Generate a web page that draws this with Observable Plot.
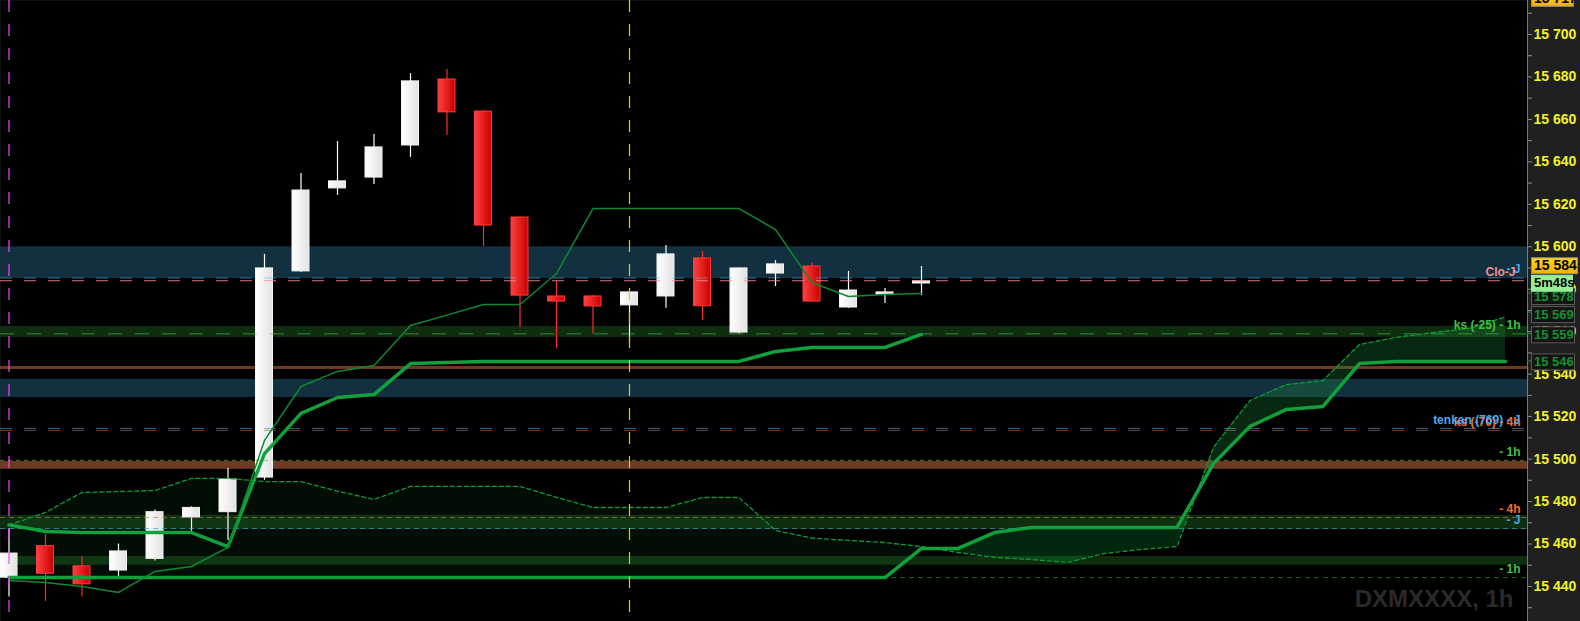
<!DOCTYPE html>
<html><head><meta charset="utf-8">
<script src="https://cdn.jsdelivr.net/npm/d3@7"></script>
<script src="https://cdn.jsdelivr.net/npm/@observablehq/plot@0.6"></script>
<style>
html,body{margin:0;padding:0;background:#202020;overflow:hidden;width:1580px;height:621px}
#chart{width:1580px;height:621px}
#chart svg{display:block;max-width:none!important;width:1580px!important;height:621px!important}
</style></head><body><div id="chart"></div>
<script>
// ---------- data ----------
const bars = [0,1,2,3,4,5,6,7,8,9,10,11,12,13,14,15,16,17,18,19,20,21,22,23,24,25];
const opens  = [15444,15459,15449.5,15447.5,15453,15472.5,15475,15491.3,15588.4,15627.5,15632.6,15647.7,15678.8,15663.7,15613.8,15576.6,15576.6,15572.4,15576.6,15594.5,15559.6,15587.4,15590.7,15571.4,15577.5,15582.7];
const highs  = [15467,15464.5,15454,15460,15476,15477.5,15495.6,15596.4,15634.5,15649.6,15652.9,15681.6,15683.5,15664,15614,15583.7,15577,15578.5,15600.6,15597.8,15590,15593.5,15592.6,15588.4,15580.4,15590.7];
const lows   = [15435,15433,15435,15444,15452,15466,15461.7,15490,15588,15624.2,15629.3,15642.1,15652.4,15600,15562,15552,15559,15555,15571,15565.3,15559,15581.3,15574,15571,15573.3,15577];
const closes = [15455.5,15446,15441,15456.5,15475,15477,15490.4,15589.8,15626.5,15630.8,15646.8,15677.9,15663.3,15610,15577,15574.2,15571.9,15578.5,15596.4,15572,15589.8,15591.7,15574.2,15579.4,15578.5,15583.7];

const tenkan = [15442.8,15441.9,15440,15437.2,15447.1,15449.4,15458.4,15508.8,15534.2,15541.3,15544.1,15562.9,15567.8,15572.8,15572.8,15587.4,15618,15618,15618,15618,15618,15608.1,15583.2,15576.6,15577.5,15578];
const kijun  = [15469,15465.9,15465.4,15465.4,15465.4,15465.4,15458.8,15502.6,15521.5,15529,15530.4,15545,15545.5,15546,15546,15546,15546,15546,15546,15546,15546,15550.7,15552.6,15552.6,15552.6,15558.7];

const spanIdx = [0,1,2,3,4,5,6,7,8,9,10,11,12,13,14,15,16,17,18,19,20,21,22,23,24,25,26,27,28,29,30,31,32,33,34,35,36,37,38,39,40,41];
const spanB = [15444.2,15444.2,15444.2,15444.2,15444.2,15444.2,15444.2,15444.2,15444.2,15444.2,15444.2,15444.2,15444.2,15444.2,15444.2,15444.2,15444.2,15444.2,15444.2,15444.2,15444.2,15444.2,15444.2,15444.2,15444.2,15457.9,15457.9,15465.4,15467.8,15467.8,15467.8,15467.8,15467.8,15497.9,15515.4,15523.4,15524.8,15545,15546,15546,15546,15546];
const spanA = [15469,15474.9,15484.3,15484.7,15485.2,15490.9,15490.9,15489.4,15489.4,15484.9,15481,15487.1,15487.1,15487.1,15487.1,15482,15477.2,15477.2,15477.2,15481.9,15481.9,15466.4,15462.8,15461.7,15460.7,15458.8,15456,15453.7,15452.7,15451.3,15455.5,15457.4,15458.8,15505.5,15527.6,15535.1,15537,15554,15557.3,15559.6,15561.5,15567];

// horizontal zones
const bandLows  = [15585, 15557.3, 15542.2, 15529, 15495.2, 15466.8, 15450];
const bandHighs = [15600, 15562.5, 15543.6, 15537.5, 15498.9, 15473.4, 15454.1];
// horizontal dashed levels
const levelValues = [15585.3, 15584, 15559, 15514.4, 15513.5, 15499.4, 15472.5, 15467.3, 15444.2];
// right-side level labels
const labelTexts  = ["- J", "Clo-J", "ks (-25) - 1h", "ks (-70) - 4h", "tenkan (769) - J", "- 1h", "- 4h", "- J", "- 1h"];
const labelLevels = [15585.3, 15584, 15559, 15513.5, 15514.4, 15499.4, 15472.5, 15467.3, 15444.2];
// price axis
const majorTicks = [15440,15460,15480,15500,15520,15540,15560,15580,15600,15620,15640,15660,15680,15700];
const minorTicks = [15430,15450,15470,15490,15510,15530,15550,15570,15590,15610,15630,15650,15670,15690,15710];
// badges
const currentPrice = 15584;
const countdown = "5m48s";
const badgeValues = [15578, 15569, 15559, 15546];
const topBadge = 15717;
const vLines = [0, 17];
const watermark = "DXMXXXX, 1h";

// ---------- styles ----------
const FONT = "'Liberation Sans', Arial, Helvetica, sans-serif";
const W = 1580, H = 621, MR = 53;
const xDomain = [-0.233, 41.603];
const yDomain = [15423.5, 15716];
const halfW = 0.233;
const bandFills = ["#12303f", "#0f2e10", "#6e3a22", "#12303f", "#6e3a22", "#0f2e10", "#0f2e10"];
const levelStyles = [
  {c: "#5ab4f0", o: 0.55, d: "12,12"},
  {c: "#ff8c8c", o: 0.85, d: "12,12"},
  {c: "#50d050", o: 0.55, d: "14,13"},
  {c: "#3c9ad8", o: 0.65, d: "12,12"},
  {c: "#c05a28", o: 0.65, d: "12,12"},
  {c: "#5ab040", o: 0.65, d: "4,4"},
  {c: "#c08040", o: 0.65, d: "5,4"},
  {c: "#3aa0d0", o: 0.7, d: "5,4"},
  {c: "#40a040", o: 0.6, d: "5,4"}
];
const labelColors = ["#4aa8f0", "#f09090", "#40c040", "#f07030", "#4aa8f0", "#40c040", "#f07030", "#4aa8f0", "#40c040"];
const labelDx = [-7, -12, -7, -7, -7, -7, -7, -7, -7];

const candles = bars.map(i => ({i, o: opens[i], h: highs[i], l: lows[i], c: closes[i], up: closes[i] >= opens[i]}));
const bands = bandLows.map((v, k) => ({lo: v, hi: bandHighs[k], fill: bandFills[k]}));
const cloud = spanIdx.map(i => ({i, a: spanA[i], b: spanB[i]}));
const labels = labelTexts.map((t, k) => ({t, v: labelLevels[k], fill: labelColors[k], dx: labelDx[k]}));
const fmt = d => d3.format(",")(Math.round(d)).replace(",", " ");

const seg = (lo, hi) => cloud.filter(d => d.i >= lo && d.i <= hi);

const chart = Plot.plot({
  width: W, height: H,
  marginLeft: 0, marginRight: MR, marginTop: 0, marginBottom: 0,
  x: {domain: xDomain, axis: null},
  y: {domain: yDomain, axis: null},
  color: {type: "identity"},
  style: {background: "#202020", fontFamily: FONT, overflow: "visible", maxWidth: "none"},
  marks: [
    Plot.frame({fill: "black"}),
    Plot.rect(bands, {y1: "lo", y2: "hi", fill: "fill"}),
    // cloud fills
    Plot.areaY(seg(0, 25), {x: "i", y1: "b", y2: "a", fill: "#14a03c", fillOpacity: 0.08}),
    Plot.areaY(seg(25, 32), {x: "i", y1: "b", y2: "a", fill: "#00a83a", fillOpacity: 0.24}),
    Plot.areaY(seg(32, 41), {x: "i", y1: "b", y2: "a", fill: "#1e9a40", fillOpacity: 0.26}),
    // candles
    Plot.ruleX(candles, {x: "i", y1: "l", y2: "h", stroke: d => d.up ? "#ffffff" : "#ff2a2a", strokeWidth: 1.2}),
    Plot.rect(candles, {x1: d => d.i - halfW, x2: d => d.i + halfW, y1: "o", y2: "c",
      fill: d => d.up ? "url(#gw)" : "url(#gr)", stroke: d => d.up ? "#f4f4f4" : "#ff3b3b", strokeWidth: 1}),
    // horizontal levels (translucent, over candles)
    ...levelValues.map((v, k) => Plot.ruleY([v], {stroke: levelStyles[k].c, strokeOpacity: levelStyles[k].o, strokeDasharray: levelStyles[k].d, strokeWidth: 1})),
    // ichimoku lines
    Plot.line(cloud, {x: "i", y: "a", stroke: "#0e9a38", strokeWidth: 1.3, strokeDasharray: "4,3"}),
    Plot.line(cloud, {x: "i", y: "b", stroke: "#10a03c", strokeWidth: 3.5}),
    Plot.line(candles, {x: "i", y: d => kijun[d.i], stroke: "#10a03c", strokeWidth: 3.5}),
    Plot.line(candles, {x: "i", y: d => tenkan[d.i], stroke: "#0d8a30", strokeWidth: 1.5}),
    // vertical session markers
    Plot.ruleX([vLines[0]], {stroke: "#ff40ff", strokeDasharray: "12,12", strokeWidth: 1.2}),
    Plot.ruleX([vLines[1]], {stroke: "#ffc000", strokeDasharray: "12,12", strokeWidth: 1.2}),
    // labels
    ...labels.map(L => Plot.text([L], {y: "v", text: "t", frameAnchor: "right", textAnchor: "end", dx: L.dx, dy: -8.5,
      lineAnchor: "middle", fill: L.fill, fontSize: 12, fontWeight: "bold"})),
    Plot.text([watermark], {frameAnchor: "bottom-right", text: d => d, dx: -14, dy: -22, lineAnchor: "middle",
      textAnchor: "end", fill: "#2a2a2a", fontSize: 24, fontWeight: "bold"}),
    // axis
    Plot.ruleX([xDomain[1]], {stroke: "#7a7a7a", strokeWidth: 1}),
    Plot.axisY(minorTicks, {anchor: "right", tickSize: 4, stroke: "#8a8a8a", tickFormat: () => "", label: null}),
    Plot.axisY(majorTicks, {anchor: "right", tickSize: 4, tickPadding: 2, stroke: "#8a8a8a", color: "#f2f22a",
      tickFormat: fmt, fontSize: 14, fontWeight: "bold", label: null, textAnchor: "start"})
  ]
});

const svg = d3.select(chart);
svg.style("max-width", "none").attr("width", W).attr("height", H);
const defs = svg.insert("defs", ":first-child");
const gw = defs.append("linearGradient").attr("id", "gw").attr("x1", "0").attr("x2", "1").attr("y1", "0").attr("y2", "0");
gw.append("stop").attr("offset", "0").attr("stop-color", "#ffffff");
gw.append("stop").attr("offset", "1").attr("stop-color", "#e2e2e2");
const gr = defs.append("linearGradient").attr("id", "gr").attr("x1", "0").attr("x2", "1").attr("y1", "0").attr("y2", "0");
gr.append("stop").attr("offset", "0").attr("stop-color", "#ff4040");
gr.append("stop").attr("offset", "1").attr("stop-color", "#c80000");
const gy = defs.append("linearGradient").attr("id", "gy").attr("x1", "0").attr("x2", "0").attr("y1", "0").attr("y2", "1");
gy.append("stop").attr("offset", "0").attr("stop-color", "#ffd820");
gy.append("stop").attr("offset", "1").attr("stop-color", "#f0b000");

// price badges on the axis, positioned with Plot's y scale
const ys = chart.scale("y");
const xr = W - MR;
const g = svg.append("g").attr("font-family", FONT).attr("font-weight", "bold").attr("text-anchor", "start");
function badge(cy, text, o) {
  const h = 16, x0 = xr + 4;
  if (o.leader) g.append("line").attr("x1", xr).attr("x2", x0).attr("y1", o.ly).attr("y2", o.ly).attr("stroke", o.leader);
  g.append("rect").attr("x", x0 + 0.5).attr("y", cy - h / 2 + 0.5).attr("width", o.w).attr("height", h)
    .attr("fill", o.bg).attr("stroke", o.stroke);
  g.append("text").attr("x", x0 + 3).attr("y", cy).attr("dy", "0.36em").attr("font-size", o.fs)
    .attr("text-anchor", "start").attr("fill", o.fg).text(text);
}
[...badgeValues].reverse().forEach((v, k) => {
  const off = [0.5, 1, 2, 3][k];
  badge(ys.apply(v) + off, fmt(v), {bg: "#141414", fg: "#12922e", stroke: "#5a5a5a", w: 43, fs: 13, leader: "#12922e", ly: ys.apply(v)});
});
badge(ys.apply(currentPrice) + 2.5, countdown, {bg: "#96ee96", fg: "#000", stroke: "#96ee96", w: 41, fs: 13});
badge(ys.apply(currentPrice) - 15, fmt(currentPrice), {bg: "url(#gy)", fg: "#000", stroke: "#8a8a8a", w: 46, fs: 14});
badge(ys.apply(topBadge), fmt(topBadge), {bg: "url(#gy)", fg: "#000", stroke: "#8a8a8a", w: 42, fs: 14});

document.getElementById("chart").appendChild(chart);
</script></body></html>
